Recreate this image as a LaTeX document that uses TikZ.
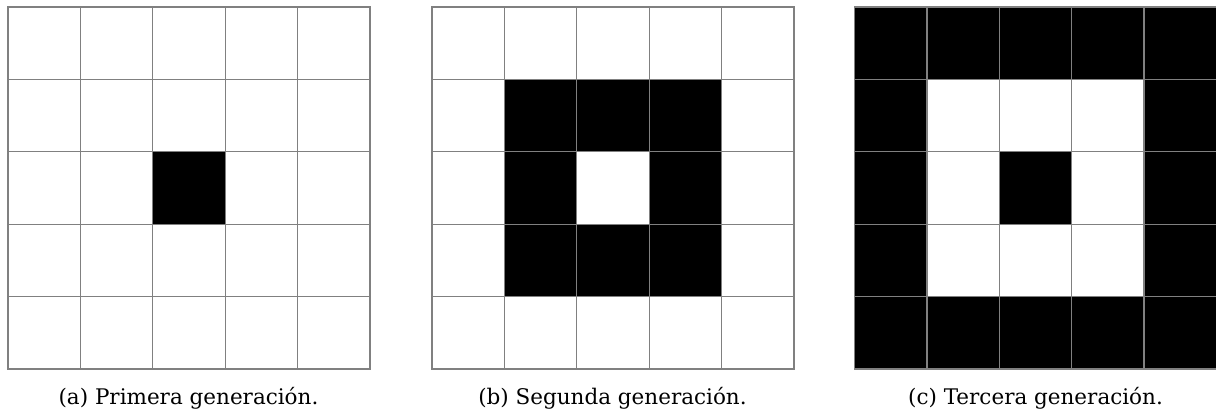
\documentclass[tikz,border=0pt]{standalone}
\usepackage{fontspec}
\setmainfont{DejaVu Serif}
\definecolor{gridgray}{RGB}{128,128,128}
\tikzset{
  cellw/.style={rectangle,fill=white,draw=gridgray,line width=1.3pt,minimum size=72.4pt,inner sep=0pt,outer sep=0pt},
  cellb/.style={cellw,fill=black},
  captext/.style={font=\fontsize{21.5}{26}\selectfont,anchor=base,inner sep=0pt}
}
\begin{document}
\begin{tikzpicture}[x=1pt,y=-1pt]
\useasboundingbox (0,0) rectangle (1216,414);
\def\cs{72.4}
\foreach \gx/\pat [count=\g] in {8/a, 432/b, 854.5/c}{
  \foreach \i in {0,...,4}{
    \foreach \j in {0,...,4}{
      \pgfmathtruncatemacro{\ring}{max(abs(\i-2),abs(\j-2))}
      \def\sty{cellw}
      \ifnum\g=1 \ifnum\ring=0 \def\sty{cellb}\fi\fi
      \ifnum\g=2 \ifnum\ring=1 \def\sty{cellb}\fi\fi
      \ifnum\g=3 \ifnum\ring=0 \def\sty{cellb}\fi \ifnum\ring=2 \def\sty{cellb}\fi\fi
      \node[\sty] (c\pat\i\j) at (\gx+\i*\cs+\cs/2,7+\j*\cs+\cs/2) {};
    }
  }
}
\node[captext] (capa) at (188.5,404) {(a) Primera generación.};
\node[captext] (capb) at (612.5,404) {(b) Segunda generación.};
\node[captext] (capc) at (1035.5,404) {(c) Tercera generación.};
\end{tikzpicture}
\end{document}
